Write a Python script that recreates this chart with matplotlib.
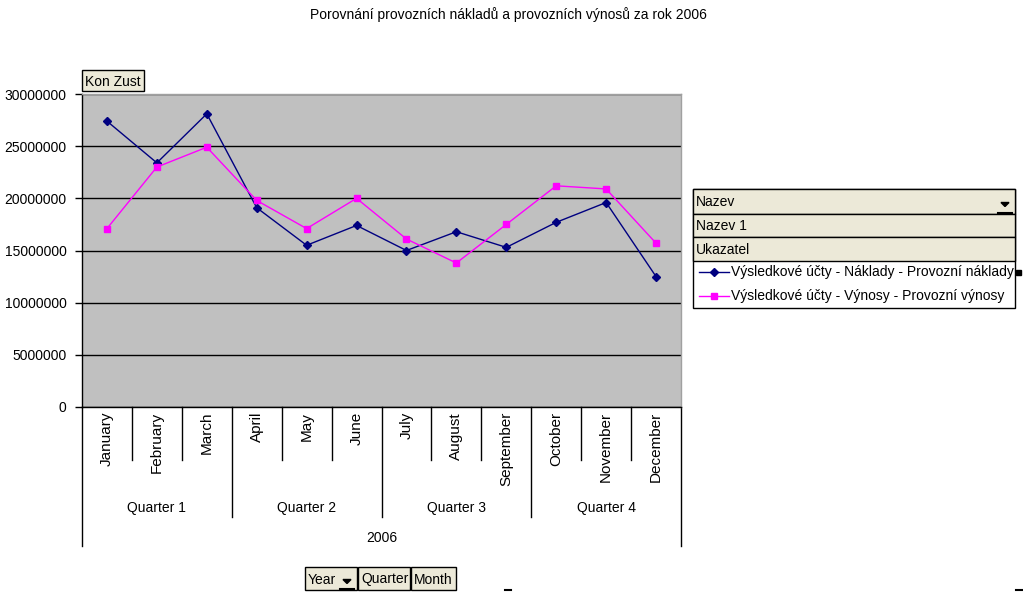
import matplotlib
matplotlib.use("Agg")
import matplotlib.pyplot as plt
from matplotlib.patches import Rectangle, Polygon
import matplotlib.transforms as mtrans

plt.rcParams['font.family'] = ['Liberation Sans', 'DejaVu Sans']
plt.rcParams['font.size'] = 10

# data
months = ['January', 'February', 'March', 'April', 'May', 'June', 'July',
          'August', 'September', 'October', 'November', 'December']
quarters = ['Quarter 1', 'Quarter 2', 'Quarter 3', 'Quarter 4']
year = '2006'
naklady = [27.4e6, 23.4e6, 28.1e6, 19.1e6, 15.5e6, 17.4e6,
           15.0e6, 16.8e6, 15.3e6, 17.7e6, 19.6e6, 12.5e6]
vynosy = [17.1e6, 23.0e6, 24.9e6, 19.8e6, 17.1e6, 20.0e6,
          16.1e6, 13.8e6, 17.5e6, 21.2e6, 20.9e6, 15.7e6]
yticks = [0, 5000000, 10000000, 15000000, 20000000, 25000000, 30000000]

W, H = 1023, 592
fig = plt.figure(figsize=(W / 100, H / 100), dpi=100)
fig.patch.set_facecolor('white')

# overlay in pixel coordinates for the pivot buttons etc.
over = fig.add_axes([0, 0, 1, 1])
over.set_xlim(0, W)
over.set_ylim(H, 0)
over.axis('off')

# plot area
px0, px1, py0, py1 = 82, 681, 94, 407
ax = fig.add_axes([px0 / W, (H - py1) / H, (px1 - px0) / W, (py1 - py0) / H])
ax.set_facecolor('#C0C0C0')
x = list(range(len(months)))
ax.plot(x, naklady, color='#000080', lw=1, marker='D', ms=4, zorder=3)
ax.plot(x, vynosy, color='#FF00FF', lw=1, marker='s', ms=4.5, zorder=3)
ax.set_xlim(-0.5, len(months) - 0.5)
ax.set_ylim(0, 30000000)
ax.set_yticks(yticks)
ax.set_yticklabels([str(v) for v in yticks])
ax.yaxis.grid(True, color='black', lw=1)
ax.set_axisbelow(True)
ax.tick_params(axis='y', direction='out', length=5, width=1, pad=6, labelsize=10)
ax.set_xticks([])
for s in ['top', 'right']:
    ax.spines[s].set_color('#A0A0A0')
    ax.spines[s].set_linewidth(1)
for s in ['left', 'bottom']:
    ax.spines[s].set_color('black')
    ax.spines[s].set_linewidth(1)

# category axis: months, quarters, year
tr = mtrans.blended_transform_factory(ax.transData, ax.transAxes)
ph = py1 - py0
def fy(p):
    return (py1 - p) / ph

for i, m in enumerate(months):
    ax.text(i, fy(412), m, transform=tr, rotation=90, ha='center', va='top', fontsize=11)
for i in range(1, len(months)):
    bot = 517 if i % 3 == 0 else 460
    ax.plot([i - 0.5, i - 0.5], [0, fy(bot)], transform=tr, color='black', lw=1, clip_on=False)
for edge in [-0.5, len(months) - 0.5]:
    ax.plot([edge, edge], [0, fy(546)], transform=tr, color='black', lw=1, clip_on=False)
for q, name in enumerate(quarters):
    ax.text(q * 3 + 1, fy(508), name, transform=tr, ha='center', va='center', fontsize=10)
ax.text((len(months) - 1) / 2, fy(538), year, transform=tr, ha='center', va='center', fontsize=10)

# title
fig.text(508 / W, 1 - 15 / H, 'Porovnání provozních nákladů a provozních výnosů za rok 2006',
         ha='center', va='center', fontsize=10)

btn = '#ECE9D8'
def button(x0, y0, x1, y1, label, arrow=False):
    over.add_patch(Rectangle((x0, y0), x1 - x0, y1 - y0, facecolor=btn,
                             edgecolor='black', lw=1))
    over.text(x0 + 3, (y0 + y1) / 2 + 1, label, ha='left', va='center', fontsize=10)
    if arrow:
        ax_ = x1 - 10
        over.add_patch(Polygon([[ax_ - 4, (y0 + y1) / 2 + 1], [ax_ + 4, (y0 + y1) / 2 + 1],
                                [ax_, (y0 + y1) / 2 + 5]], color='black'))
        over.plot([ax_ - 7, ax_ + 7], [y1 - 1, y1 - 1], color='black', lw=1.5)

button(82, 70, 144, 91, 'Kon Zust')

# legend panel
over.add_patch(Rectangle((693, 189), 322, 119, facecolor='white', edgecolor='black', lw=1))
button(693, 189, 1015, 214, 'Nazev', arrow=True)
button(693, 214, 1015, 237, 'Nazev 1')
button(693, 237, 1015, 261, 'Ukazatel')
over.plot([699, 729], [272, 272], color='#000080', lw=1)
over.plot([714], [272], color='#000080', marker='D', ms=4)
over.text(731, 272, 'Výsledkové účty - Náklady - Provozní náklady', ha='left', va='center', fontsize=10)
over.plot([699, 729], [296, 296], color='#FF00FF', lw=1)
over.plot([714], [296], color='#FF00FF', marker='s', ms=4.5)
over.text(731, 296, 'Výsledkové účty - Výnosy - Provozní výnosy', ha='left', va='center', fontsize=10)
over.add_patch(Rectangle((1016, 270), 5, 5, color='black'))

# field buttons at the bottom
button(305, 567, 357, 590, 'Year', arrow=True)
button(358, 567, 410, 590, 'Quarter')
button(411, 567, 456, 590, 'Month')
over.plot([505, 511], [590, 590], color='black', lw=1.5)
over.plot([1016, 1022], [590, 590], color='black', lw=1.5)

fig.savefig('out.png', dpi=100)
